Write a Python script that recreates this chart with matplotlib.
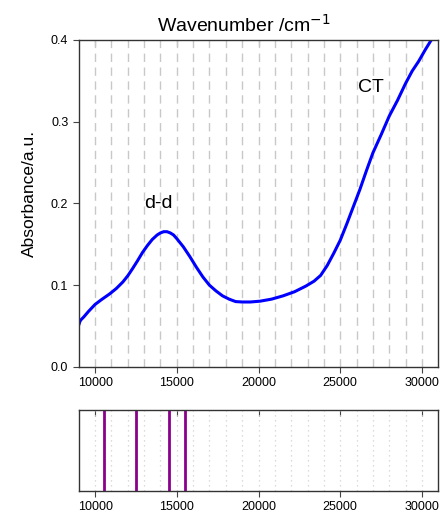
import numpy as np
import matplotlib
matplotlib.use('Agg')
import matplotlib.pyplot as plt
from matplotlib.ticker import MultipleLocator, FormatStrFormatter

plt.rcParams['font.family'] = ['Liberation Sans', 'DejaVu Sans']

# absorbance spectrum (wavenumber in cm-1, absorbance in a.u.)
wavenumber = [9030, 9080, 9150, 9300, 9600, 10000, 10400, 10900, 11300, 11700,
              12000, 12300, 12600, 12900, 13200, 13500, 13800, 14000, 14200,
              14400, 14600, 14800, 15000, 15400, 15800, 16200, 16600, 17000,
              17400, 17800, 18200, 18600, 19000, 19500, 20100, 20800, 21500,
              22200, 22900, 23400, 23800, 24200, 24600, 25000, 25400, 25800,
              26200, 26600, 27000, 27500, 28000, 28500, 29000, 29400, 29800,
              30200, 30600, 30800]
absorbance = [0.053, 0.056, 0.058, 0.061, 0.068, 0.0765, 0.0825, 0.0895, 0.096, 0.104,
              0.1115, 0.1205, 0.130, 0.140, 0.1485, 0.156, 0.1615, 0.164, 0.1655,
              0.1655, 0.164, 0.1615, 0.157, 0.147, 0.135, 0.122, 0.110, 0.100,
              0.093, 0.087, 0.083, 0.080, 0.0795, 0.0795, 0.0805, 0.083, 0.087,
              0.092, 0.099, 0.105, 0.112, 0.124, 0.139, 0.155, 0.175, 0.196,
              0.217, 0.240, 0.262, 0.284, 0.307, 0.326, 0.347, 0.362, 0.374,
              0.388, 0.401, 0.410]

# calculated transition positions
transitions = [10570, 12520, 14520, 15520]

fig = plt.figure(figsize=(4.43, 5.16), dpi=100)
ax = fig.add_axes([0.1777, 0.2888, 0.8117, 0.6337])
ax2 = fig.add_axes([0.1777, 0.0484, 0.8117, 0.157])

for a in (ax, ax2):
    a.set_xlim(9000, 31000)
    a.set_xticks(np.arange(10000, 30001, 1000), minor=True)
    a.xaxis.set_major_locator(MultipleLocator(5000))
    a.tick_params(axis='x', which='major', direction='out', length=4,
                  labelsize=9, color='#444444')
    a.tick_params(axis='x', which='minor', length=0)
    for s in a.spines.values():
        s.set_color('#333333')
        s.set_linewidth(1.0)
    # short inward ticks along the top edge
    top = a.secondary_xaxis('top')
    top.xaxis.set_major_locator(MultipleLocator(5000))
    top.tick_params(axis='x', direction='in', length=4, color='#444444',
                    labeltop=False)
    top.spines['top'].set_visible(False)

ax.grid(True, which='both', axis='x', color='#c8c8c8', linestyle=(0, (6, 4)),
        linewidth=1.0)
ax.set_axisbelow(True)
ax.plot(wavenumber, absorbance, color='#0000ff', linewidth=2.2)
ax.set_ylim(0, 0.4)
ax.yaxis.set_major_locator(MultipleLocator(0.1))
ax.yaxis.set_major_formatter(FormatStrFormatter('%.1f'))
ax.tick_params(axis='y', direction='out', length=4, labelsize=9, color='#444444')
ax.set_ylabel('Absorbance/a.u.', fontsize=12.5)
ax.yaxis.set_label_coords(-0.115, 0.53)
ax.set_title('Wavenumber /cm$^{-1}$', fontsize=14, pad=6, x=0.46)
ax.text(13850, 0.2, 'd-d', fontsize=14, ha='center', va='center')
ax.text(26880, 0.342, 'CT', fontsize=14, ha='center', va='center')

ax2.grid(True, which='both', axis='x', color='#d0d0d0', linestyle=(0, (1, 3)),
         linewidth=0.9)
ax2.set_axisbelow(True)
for wn in transitions:
    ax2.axvline(wn, color='#8b008b', linewidth=2.0)
ax2.set_ylim(0, 1)
ax2.set_yticks([])

fig.savefig('out.png', dpi=100)
